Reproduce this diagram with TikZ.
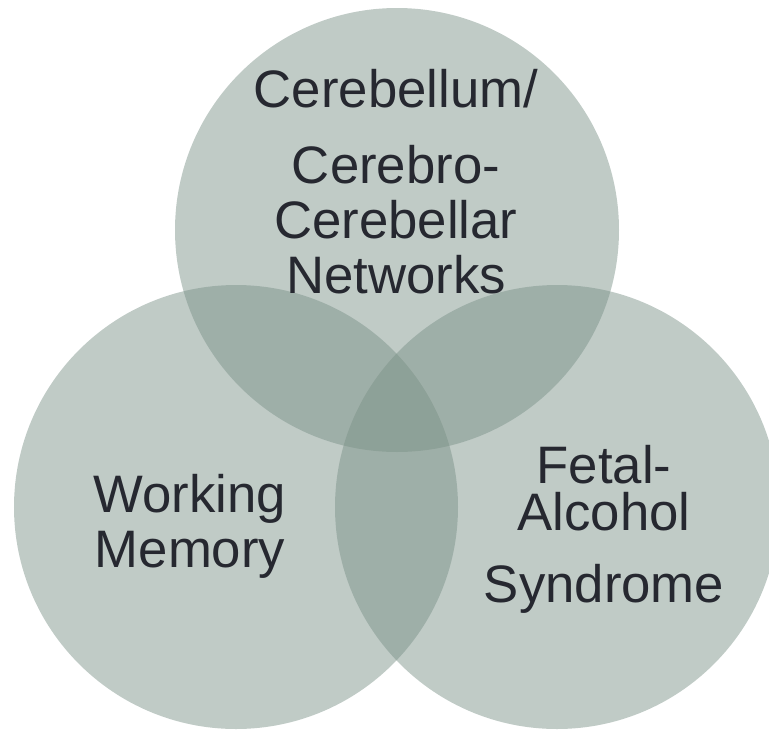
\documentclass[tikz,border=0pt]{standalone}
\usepackage{fontspec}
\setmainfont{Liberation Sans}
\usetikzlibrary{positioning}
\definecolor{vennfill}{RGB}{121,144,134}
\definecolor{vennink}{RGB}{38,40,48}
\tikzset{
  venn/.style ={circle,fill=vennfill,fill opacity=0.47,draw=none,
                minimum size=8.88cm,inner sep=0pt},
  lbl/.style  ={align=center,text=vennink,inner sep=0pt,anchor=north,
                font=\fontsize{30pt}{31.3pt}\selectfont},
}

\begin{document}
\begin{tikzpicture}
  \useasboundingbox (0,0) rectangle (15.38,-14.6);

  % the three sets
  \node[venn] (cb) at (7.94,-4.60)  {};
  \node[venn] (wm) at (4.72,-10.14) {};
  \node[venn] (fa) at (11.14,-10.14) {};

  % labels
  \node[lbl] (cbtext) at (7.92,-1.37)
    {Cerebellum/\\[12pt] Cerebro-\\ Cerebellar\\ Networks};
  \node[lbl] (wmtext) at (3.80,-9.47)
    {Working\\ Memory};
  \node[lbl] (fatext) at (12.08,-8.89)
    {Fetal-\\[-4.2pt] Alcohol\\[9.6pt] Syndrome};
\end{tikzpicture}
\end{document}
